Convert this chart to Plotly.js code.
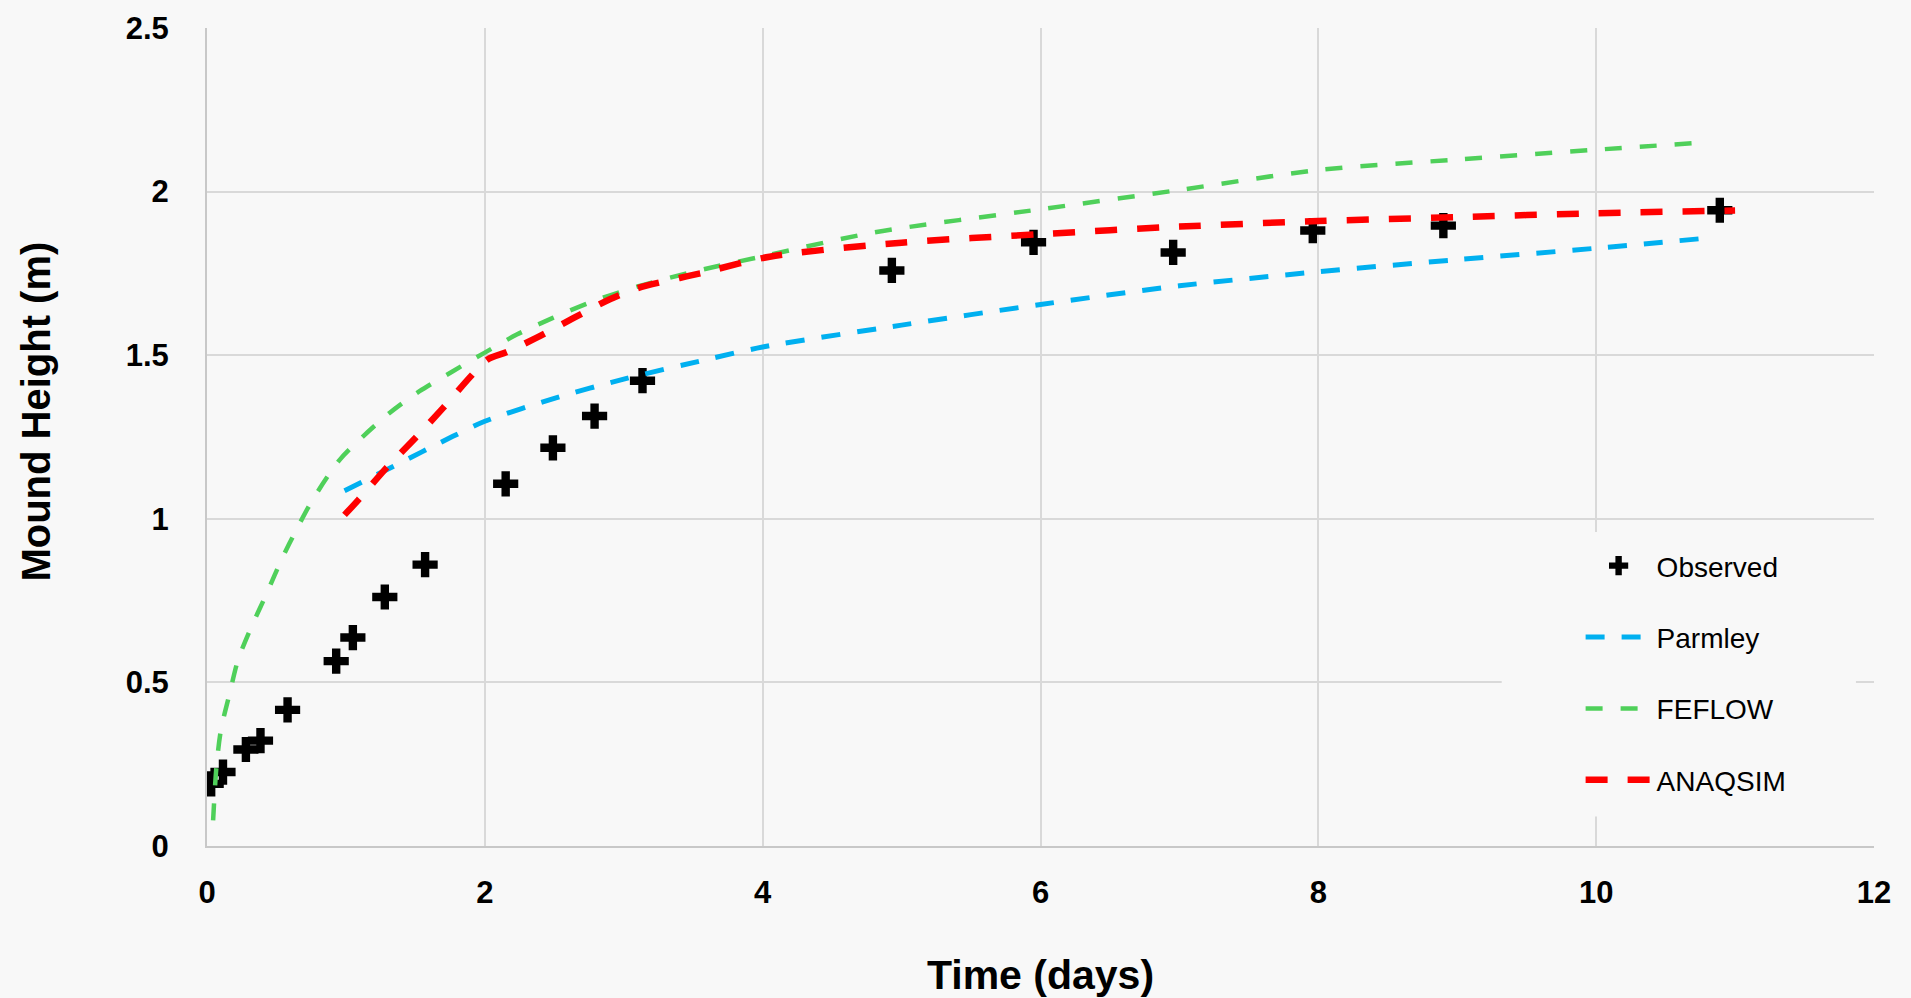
<!DOCTYPE html>
<html>
<head>
<meta charset="utf-8">
<script src="https://cdn.plot.ly/plotly-3.0.1.min.js"></script>
<style>
  html, body { margin: 0; padding: 0; background: #f8f8f8; }
  #chart { width: 1911px; height: 998px; }
</style>
</head>
<body>
<div id="chart"></div>
<script>
// Observed data
const observedTime = [0.03, 0.115, 0.28, 0.385, 0.58, 0.93, 1.05, 1.28, 1.57, 2.15, 2.49, 2.79, 3.135, 4.93, 5.95, 6.955, 7.96, 8.90, 10.89];
const observedHeight = [0.19, 0.226, 0.295, 0.322, 0.416, 0.565, 0.637, 0.761, 0.860, 1.107, 1.217, 1.314, 1.422, 1.759, 1.845, 1.814, 1.881, 1.896, 1.943];

// Parmley model
const parmleyTime = [0.99, 1.34, 1.77, 2.0, 2.5, 3.0, 3.6, 4.0, 5.0, 6.0, 7.0, 8.0, 9.0, 10.0, 10.85];
const parmleyHeight = [1.086, 1.16, 1.252, 1.298, 1.368, 1.427, 1.487, 1.525, 1.592, 1.655, 1.712, 1.755, 1.792, 1.827, 1.86];

// FEFLOW model
const feflowTime = [0.044, 0.068, 0.10, 0.163, 0.223, 0.32, 0.43, 0.535, 0.655, 0.76, 0.955, 1.124, 1.316, 1.53, 1.77, 2.0, 2.23, 2.49, 2.78, 3.1, 3.55, 4.0, 4.8, 6.0, 7.0, 8.0, 9.0, 10.0, 10.77];
const feflowHeight = [0.078, 0.242, 0.354, 0.466, 0.568, 0.67, 0.772, 0.874, 0.976, 1.058, 1.18, 1.252, 1.324, 1.39, 1.451, 1.508, 1.563, 1.614, 1.665, 1.71, 1.76, 1.802, 1.875, 1.946, 2.005, 2.066, 2.098, 2.128, 2.15];

// ANAQSIM model
const anaqsimTime = [0.99, 1.09, 1.29, 1.5, 1.7, 1.9, 2.02, 2.16, 2.37, 2.64, 2.9, 3.1, 3.55, 4.05, 5.0, 6.0, 7.0, 8.0, 9.0, 10.0, 11.0];
const anaqsimHeight = [1.012, 1.058, 1.155, 1.247, 1.339, 1.436, 1.487, 1.51, 1.553, 1.614, 1.671, 1.705, 1.75, 1.801, 1.844, 1.87, 1.893, 1.91, 1.922, 1.934, 1.942];

const xTicks = [0, 2, 4, 6, 8, 10, 12];
const yTicks = [0, 0.5, 1, 1.5, 2, 2.5];
const yTickLabels = ['0', '0.5', '1', '1.5', '2', '2.5'];

const BG = '#f8f8f8';
const FONT = '"Liberation Sans", Arial, sans-serif';

const traces = [
  {
    x: observedTime, y: observedHeight, name: 'Observed', type: 'scatter', mode: 'markers',
    marker: { symbol: 'cross', size: 21, color: '#000000', line: { width: 0 } },
    legendgroup: 'g1'
  },
  {
    x: parmleyTime, y: parmleyHeight, name: 'Parmley', type: 'scatter', mode: 'lines',
    line: { color: '#00b0f0', width: 5, dash: '19px,17px', shape: 'spline', smoothing: 0.8 },
    legendgroup: 'g2'
  },
  {
    x: feflowTime, y: feflowHeight, name: 'FEFLOW', type: 'scatter', mode: 'lines',
    line: { color: '#4fd05a', width: 4.5, dash: '17px,18px', shape: 'spline', smoothing: 0.8 },
    legendgroup: 'g3'
  },
  {
    x: anaqsimTime, y: anaqsimHeight, name: 'ANAQSIM', type: 'scatter', mode: 'lines',
    line: { color: '#ff0000', width: 6.5, dash: '22px,20px', shape: 'spline', smoothing: 0.8 },
    legendgroup: 'g4'
  }
];

const layout = {
  width: 1911, height: 998,
  margin: { l: 207, r: 37, t: 28, b: 152, pad: 0 },
  paper_bgcolor: BG, plot_bgcolor: BG,
  font: { family: FONT, color: '#000000' },
  showlegend: true,
  legend: {
    x: 0.824, y: 0.373, xanchor: 'left', yanchor: 'top',
    bgcolor: 'rgba(0,0,0,0)', borderwidth: 0,
    font: { family: FONT, size: 28, color: '#000000' },
    traceorder: 'grouped', tracegroupgap: 32, itemwidth: 66
  },
  xaxis: {
    range: [0, 12], tickvals: xTicks, ticktext: xTicks.map(String),
    showgrid: true, gridcolor: '#d9d9d9', gridwidth: 2,
    zeroline: false, showline: true, linecolor: '#c8c8c8', linewidth: 2,
    ticks: '', ticklabelstandoff: 18,
    tickfont: { family: FONT, size: 31, color: '#000000', weight: 'bold' },
    title: { text: '<b>Time (days)</b>', font: { family: FONT, size: 41, color: '#000000' }, standoff: 53 },
    fixedrange: true
  },
  yaxis: {
    range: [0, 2.5], tickvals: yTicks, ticktext: yTickLabels,
    showgrid: true, gridcolor: '#d9d9d9', gridwidth: 2,
    zeroline: false, showline: true, linecolor: '#c8c8c8', linewidth: 2,
    ticks: '', ticklabelstandoff: 30,
    tickfont: { family: FONT, size: 31, color: '#000000', weight: 'bold' },
    fixedrange: true
  },
  shapes: [
    { type: 'rect', xref: 'x', yref: 'y', x0: 9.32, x1: 11.87, y0: 0.09, y1: 0.96,
      fillcolor: BG, line: { width: 0 }, layer: 'above' }
  ],
  annotations: [
    { text: '<b>Mound Height (m)</b>', xref: 'paper', yref: 'paper', x: -0.1026, y: 0.531,
      xanchor: 'center', yanchor: 'middle', textangle: -90, showarrow: false,
      font: { family: FONT, size: 40, color: '#000000' } }
  ]
};

Plotly.newPlot('chart', traces, layout, { displayModeBar: false, staticPlot: true });
</script>
</body>
</html>
